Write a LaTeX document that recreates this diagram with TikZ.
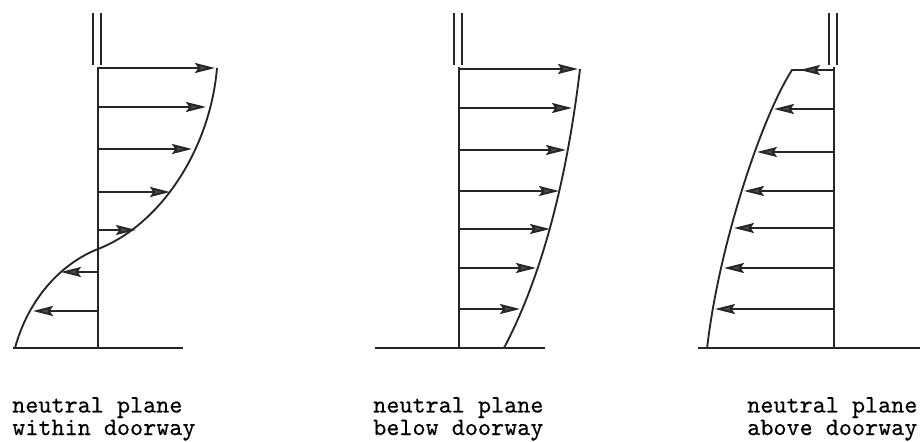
\documentclass[tikz,border=0pt]{standalone}
\usepackage{fontspec}
\newfontfamily\doorfont{lmmono10-regular.otf}[FakeBold=0.35]
\usetikzlibrary{arrows.meta}
\tikzset{
  wall/.style={line width=1.5pt,draw=black!85},
  jamb/.style={line width=1.2pt,draw=black!85},
  profile/.style={line width=1.4pt,draw=black!85},
  flow/.style={line width=1.4pt,draw=black!85,-{Stealth[length=15pt,width=7.5pt,inset=2.5pt,fill=black!70]}},
  doortext/.style={font=\doorfont\fontsize{18.7}{16.9}\selectfont,align=left,inner sep=0pt,anchor=base west}
}
% wall, doorway jambs and floor of one panel
\newcommand{\doorwall}[4]{%
  \coordinate (#1top) at (#2,67);%
  \coordinate (#1foot) at (#2,348);%
  \coordinate (#1gl) at (#3,348);%
  \coordinate (#1gr) at (#4,348);%
  \draw[jamb] (#2-5,13) -- (#2-5,65);%
  \draw[jamb] (#2+3,13) -- (#2+3,65);%
  \draw[wall] (#1top) -- (#1foot);%
  \draw[wall] (#1gl) -- (#1gr);%
}
\begin{document}
\begin{tikzpicture}[x=0.75pt,y=-0.75pt]
  \useasboundingbox (0,0) rectangle (921,442);
  % within doorway
  \doorwall{a}{98}{13}{183}
  \draw[profile] (217,68) .. controls (210,150) and (160,225) .. (98,249)
    .. controls (60,264) and (28,300) .. (15,348);
  \foreach \y/\x [count=\i] in {68/215,107/206,149/192,192/170,230/136,272/61,311/33} {
    \coordinate (aw\i) at (98,\y);
    \coordinate (ac\i) at (\x,\y);
    \draw[flow] (aw\i) -- (ac\i);
  }
  \node[doortext] (alab) at (12,435) {neutral plane\\within doorway};
  % below doorway
  \doorwall{b}{459}{375}{545}
  \draw[profile] (580,69) .. controls (568,170) and (545,270) .. (504,348);
  \foreach \y/\x [count=\i] in {69/578,108/572,150/566,191/559,229/550,268/536,309/520} {
    \coordinate (bw\i) at (459,\y);
    \coordinate (bc\i) at (\x,\y);
    \draw[flow] (bw\i) -- (bc\i);
  }
  \node[doortext] (blab) at (373,435) {neutral plane\\below doorway};
  % above doorway
  \doorwall{c}{834}{698}{920}
  \draw[profile] (834,70) -- (792,70) .. controls (760,120) and (718,250) .. (707,349);
  \foreach \y/\x [count=\i] in {70/800,109/774,152/757,191/744,228/734,268/724,309/715} {
    \coordinate (cw\i) at (834,\y);
    \coordinate (cc\i) at (\x,\y);
    \draw[flow] (cw\i) -- (cc\i);
  }
  \node[doortext] (clab) at (747,435) {neutral plane\\above doorway};
\end{tikzpicture}
\end{document}
